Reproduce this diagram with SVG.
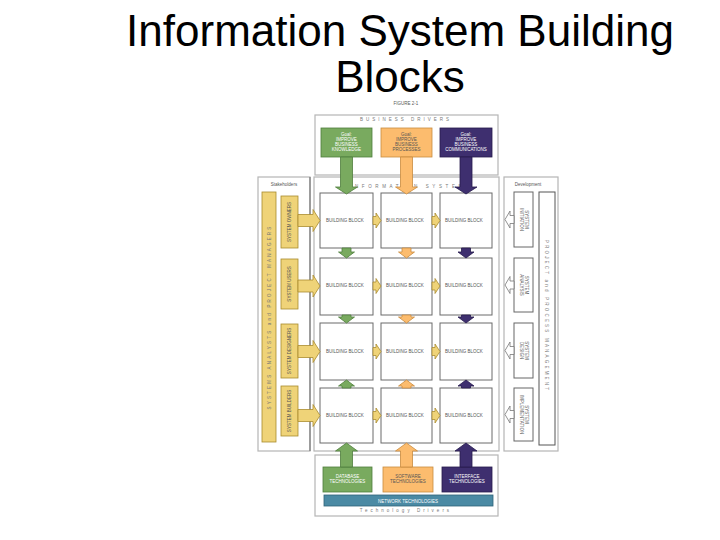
<svg xmlns="http://www.w3.org/2000/svg" width="720" height="540" viewBox="0 0 720 540">
<style>
.title{font-family:"Liberation Sans",Arial,sans-serif;font-size:44px;fill:#000;text-anchor:middle}
.t{font-family:"Liberation Sans",Arial,sans-serif;font-size:4.5px;fill:#555;text-anchor:middle}
.tw{font-family:"Liberation Sans",Arial,sans-serif;font-size:4.5px;fill:#fff;text-anchor:middle}
.tl{font-family:"Liberation Sans",Arial,sans-serif;font-size:4.5px;fill:#555}
.sp{font-family:"Liberation Sans",Arial,sans-serif;font-size:4.5px;fill:#777;text-anchor:middle;letter-spacing:3px}
.cont{fill:#fff;stroke:#b5b5b5;stroke-width:1.2}
.blk{fill:#fff;stroke:#6a6a6a;stroke-width:1}
.g{fill:#79aa5f;stroke:#4f7d3c;stroke-width:0.8}
.o{fill:#fcbc6e;stroke:#c98c3f;stroke-width:0.8}
.p{fill:#3e2f6f;stroke:#261b4c;stroke-width:0.8}
.y{fill:#efd378;stroke:#a98c2e;stroke-width:0.8}
.h{fill:#fff;stroke:#777;stroke-width:0.8}
</style>
<text class="title" x="400" y="46">Information System Building</text>
<text class="title" x="400" y="92">Blocks</text>
<text class="t" x="406" y="105" font-size="4px">FIGURE 2-1</text>

<g id="business-drivers">
<rect class="cont" x="315" y="115" width="183" height="60"/>
<text class="sp" x="406" y="121">BUSINESS DRIVERS</text>
</g>
<g id="goal-knowledge">
<rect class="g" x="321" y="128" width="51" height="29"/>
<text class="tw" x="346.5" y="136"><tspan x="346.5">Goal:</tspan><tspan x="346.5" dy="5">IMPROVE</tspan><tspan x="346.5" dy="5">BUSINESS</tspan><tspan x="346.5" dy="5">KNOWLEDGE</tspan></text>
</g>
<g id="goal-processes">
<rect class="o" x="381" y="128" width="51" height="29"/>
<text class="t" x="406.5" y="136" fill="#6a4a20"><tspan x="406.5">Goal:</tspan><tspan x="406.5" dy="5">IMPROVE</tspan><tspan x="406.5" dy="5">BUSINESS</tspan><tspan x="406.5" dy="5">PROCESSES</tspan></text>
</g>
<g id="goal-communications">
<rect class="p" x="440" y="128" width="52" height="29"/>
<text class="tw" x="466" y="136"><tspan x="466">Goal:</tspan><tspan x="466" dy="5">IMPROVE</tspan><tspan x="466" dy="5">BUSINESS</tspan><tspan x="466" dy="5">COMMUNICATIONS</tspan></text>
</g>

<g id="stakeholders">
<rect class="cont" x="258" y="177" width="52" height="274"/>
<line x1="310" y1="177" x2="310" y2="451" stroke="#666" stroke-width="1"/>
<text class="t" x="284" y="186" fill="#999">Stakeholders</text>
<rect class="y" x="262" y="192" width="14" height="250"/>
<text class="sp" x="0" y="0" transform="translate(271,317) rotate(-90)" fill="#5a4a10" style="letter-spacing:2.2px">SYSTEMS ANALYSTS and PROJECT MANAGERS</text>
</g>
<g id="system-owners">
<rect class="y" x="281" y="196" width="17" height="52"/>
<text class="t" transform="translate(291,222) rotate(-90)" fill="#5a4a10">SYSTEM OWNERS</text>
</g>
<g id="system-users">
<rect class="y" x="281" y="259" width="17" height="50"/>
<text class="t" transform="translate(291,284) rotate(-90)" fill="#5a4a10">SYSTEM USERS</text>
</g>
<g id="system-designers">
<rect class="y" x="281" y="324" width="17" height="54"/>
<text class="t" transform="translate(291,351) rotate(-90)" fill="#5a4a10">SYSTEM DESIGNERS</text>
</g>
<g id="system-builders">
<rect class="y" x="281" y="386" width="17" height="50"/>
<text class="t" transform="translate(291,411) rotate(-90)" fill="#5a4a10">SYSTEM BUILDERS</text>
</g>

<g id="information-system">
<rect class="cont" x="314" y="177" width="185" height="274"/>
<text class="sp" x="408" y="188" font-size="8px" style="letter-spacing:3.6px" fill="#444">INFORMATION SYSTEM</text>
</g>
<g id="blocks">
<g id="b11"><rect class="blk" x="320" y="193" width="53" height="55"/><text class="tl" x="326" y="222">BUILDING BLOCK</text></g>
<g id="b12"><rect class="blk" x="381" y="193" width="51" height="55"/><text class="tl" x="386" y="222">BUILDING BLOCK</text></g>
<g id="b13"><rect class="blk" x="440" y="193" width="52" height="55"/><text class="tl" x="445" y="222">BUILDING BLOCK</text></g>
<g id="b21"><rect class="blk" x="320" y="258" width="53" height="57"/><text class="tl" x="326" y="287">BUILDING BLOCK</text></g>
<g id="b22"><rect class="blk" x="381" y="258" width="51" height="57"/><text class="tl" x="386" y="287">BUILDING BLOCK</text></g>
<g id="b23"><rect class="blk" x="440" y="258" width="52" height="57"/><text class="tl" x="445" y="287">BUILDING BLOCK</text></g>
<g id="b31"><rect class="blk" x="320" y="323" width="53" height="57"/><text class="tl" x="326" y="353">BUILDING BLOCK</text></g>
<g id="b32"><rect class="blk" x="381" y="323" width="51" height="57"/><text class="tl" x="386" y="353">BUILDING BLOCK</text></g>
<g id="b33"><rect class="blk" x="440" y="323" width="52" height="57"/><text class="tl" x="445" y="353">BUILDING BLOCK</text></g>
<g id="b41"><rect class="blk" x="320" y="388" width="53" height="55"/><text class="tl" x="326" y="417">BUILDING BLOCK</text></g>
<g id="b42"><rect class="blk" x="381" y="388" width="51" height="55"/><text class="tl" x="386" y="417">BUILDING BLOCK</text></g>
<g id="b43"><rect class="blk" x="440" y="388" width="52" height="55"/><text class="tl" x="445" y="417">BUILDING BLOCK</text></g>
</g>

<g id="development">
<rect class="cont" x="504" y="177" width="54" height="274"/>
<text class="t" x="528" y="186" fill="#999">Development</text>
<rect x="539" y="192" width="16" height="253" fill="#fff" stroke="#555" stroke-width="1"/>
<text class="sp" transform="translate(545,316) rotate(90)" style="letter-spacing:2.2px">PROJECT and PROCESS MANAGEMENT</text>
</g>
<g id="system-initiation">
<rect x="514" y="192" width="19" height="55" fill="#fff" stroke="#666" stroke-width="1"/>
<text class="t" transform="translate(524,219.5) rotate(90)"><tspan x="0" y="-1">SYSTEM</tspan><tspan x="0" y="4">INITIATION</tspan></text>
</g>
<g id="system-analysis">
<rect x="514" y="258" width="19" height="54" fill="#fff" stroke="#666" stroke-width="1"/>
<text class="t" transform="translate(524,285) rotate(90)"><tspan x="0" y="-1">SYSTEM</tspan><tspan x="0" y="4">ANALYSIS</tspan></text>
</g>
<g id="system-design">
<rect x="514" y="323" width="19" height="55" fill="#fff" stroke="#666" stroke-width="1"/>
<text class="t" transform="translate(524,350.5) rotate(90)"><tspan x="0" y="-1">SYSTEM</tspan><tspan x="0" y="4">DESIGN</tspan></text>
</g>
<g id="system-implementation">
<rect x="514" y="388" width="19" height="53" fill="#fff" stroke="#666" stroke-width="1"/>
<text class="t" transform="translate(524,414.5) rotate(90)"><tspan x="0" y="-1">SYSTEM</tspan><tspan x="0" y="4">IMPLEMENTATION</tspan></text>
</g>

<g id="technology-drivers">
<rect class="cont" x="315" y="455" width="183" height="61"/>
<text class="sp" x="406" y="512">Technology Drivers</text>
</g>
<g id="database-tech">
<rect class="g" x="323" y="467" width="49" height="25"/>
<text class="tw" x="347.5" y="478"><tspan x="347.5">DATABASE</tspan><tspan x="347.5" dy="5">TECHNOLOGIES</tspan></text>
</g>
<g id="software-tech">
<rect class="o" x="383" y="467" width="50" height="25"/>
<text class="t" x="408" y="478" fill="#6a4a20"><tspan x="408">SOFTWARE</tspan><tspan x="408" dy="5">TECHNOLOGIES</tspan></text>
</g>
<g id="interface-tech">
<rect class="p" x="442" y="467" width="50" height="25"/>
<text class="tw" x="467" y="478"><tspan x="467">INTERFACE</tspan><tspan x="467" dy="5">TECHNOLOGIES</tspan></text>
</g>
<g id="network-tech">
<rect x="324" y="495" width="169" height="11" fill="#4b8aa4" stroke="#2f6278" stroke-width="0.8"/>
<text class="tw" x="408" y="502.5">NETWORK TECHNOLOGIES</text>
</g>

<g id="connectors">
<polygon class="g" points="340.5,157 352.5,157 352.5,187 357.5,187 346.5,194 335.5,187 340.5,187"/>
<polygon class="o" points="400.5,157 412.5,157 412.5,187 417.5,187 406.5,194 395.5,187 400.5,187"/>
<polygon class="p" points="460,157 472,157 472,187 477,187 466,194 455,187 460,187"/>
<polygon class="g" points="346.5,443 357.5,451 352.5,451 352.5,467 340.5,467 340.5,451 335.5,451"/>
<polygon class="o" points="406.5,443 417.5,451 412.5,451 412.5,467 400.5,467 400.5,451 395.5,451"/>
<polygon class="p" points="466,443 477,451 472,451 472,467 460,467 460,451 455,451"/>
<polygon class="g" points="342,248 351,248 351,252 354.5,252 346.5,258 338.5,252 342,252"/>
<polygon class="o" points="402,248 411,248 411,252 414.5,252 406.5,258 398.5,252 402,252"/>
<polygon class="p" points="461.5,248 470.5,248 470.5,252 474,252 466,258 458,252 461.5,252"/>
<polygon class="g" points="342,315 351,315 351,317 354.5,317 346.5,323 338.5,317 342,317"/>
<polygon class="o" points="402,315 411,315 411,317 414.5,317 406.5,323 398.5,317 402,317"/>
<polygon class="p" points="461.5,315 470.5,315 470.5,317 474,317 466,323 458,317 461.5,317"/>
<polygon class="g" points="346.5,380 354.5,386 351,386 351,388 342,388 342,386 338.5,386"/>
<polygon class="o" points="406.5,380 414.5,386 411,386 411,388 402,388 402,386 398.5,386"/>
<polygon class="p" points="466,380 474,386 470.5,386 470.5,388 461.5,388 461.5,386 458,386"/>
<polygon class="y" points="298,214.5 313,214.5 313,209.5 320,220.5 313,231.5 313,226.5 298,226.5"/>
<polygon class="y" points="298,280 313,280 313,275 320,286 313,297 313,292 298,292"/>
<polygon class="y" points="298,345.5 313,345.5 313,340.5 320,351.5 313,362.5 313,357.5 298,357.5"/>
<polygon class="y" points="298,409.5 313,409.5 313,404.5 320,415.5 313,426.5 313,421.5 298,421.5"/>
<polygon class="y" points="373,216.5 376,216.5 376,213 381,220.5 376,228 376,224.5 373,224.5"/>
<polygon class="y" points="432,216.5 435,216.5 435,213 440,220.5 435,228 435,224.5 432,224.5"/>
<polygon class="y" points="373,282 376,282 376,278.5 381,286 376,293.5 376,290 373,290"/>
<polygon class="y" points="432,282 435,282 435,278.5 440,286 435,293.5 435,290 432,290"/>
<polygon class="y" points="373,347.5 376,347.5 376,344 381,351.5 376,359 376,355.5 373,355.5"/>
<polygon class="y" points="432,347.5 435,347.5 435,344 440,351.5 435,359 435,355.5 432,355.5"/>
<polygon class="y" points="373,411.5 376,411.5 376,408 381,415.5 376,423 376,419.5 373,419.5"/>
<polygon class="y" points="432,411.5 435,411.5 435,408 440,415.5 435,423 435,419.5 432,419.5"/>
<polygon class="h" points="514,215.5 510,215.5 510,211 505,219.5 510,228 510,223.5 514,223.5"/>
<polygon class="h" points="514,281 510,281 510,276.5 505,285 510,293.5 510,289 514,289"/>
<polygon class="h" points="514,346.5 510,346.5 510,342 505,350.5 510,359 510,354.5 514,354.5"/>
<polygon class="h" points="514,410.5 510,410.5 510,406 505,414.5 510,423 510,418.5 514,418.5"/>
</g>
</svg>
